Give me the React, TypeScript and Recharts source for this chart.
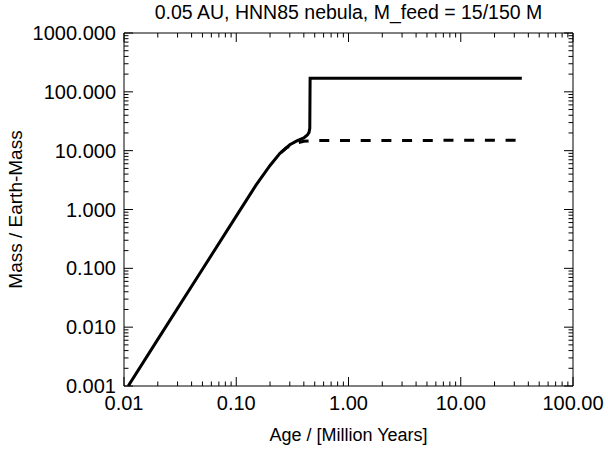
import { LineChart, Line, XAxis, YAxis } from "recharts";

// ages in Myr, masses in Earth masses
const solidAge = [0.0109, 0.02, 0.05, 0.1, 0.15, 0.2, 0.245, 0.3, 0.35, 0.4, 0.43, 0.445, 0.452, 0.455, 35];
const solidMass = [0.001, 0.0062, 0.0965, 0.77, 2.6, 5.6, 9.0, 12.6, 14.8, 16.5, 18.5, 20.5, 24, 170, 170];

const dashAge = [0.25, 0.28, 0.31, 0.35, 0.4, 0.5, 31.5];
const dashMass = [9.3, 11.2, 12.3, 13.6, 14.4, 14.9, 15];

const xDecades = [0.01, 0.1, 1, 10, 100];
const yDecades = [0.001, 0.01, 0.1, 1, 10, 100, 1000];
const minorSteps = [2, 3, 4, 5, 6, 7, 8, 9];

const TITLE = "0.05 AU, HNN85 nebula, M_feed = 15/150 M";
const X_TITLE = "Age / [Million Years]";
const Y_TITLE = "Mass / Earth-Mass";

const W = 608;
const H = 450;
const LEFT = 124;
const RIGHT = 573;
const TOP = 33;
const BOTTOM = 386;
const MAJOR = 9;
const MINOR = 4.5;
const FONT = '"Liberation Sans", Arial, Helvetica, sans-serif';

const solid = solidAge.map((t, i) => ({ t, m: solidMass[i] }));
const dashed = dashAge.map((t, i) => ({ t, m: dashMass[i] }));

const withMinors = (decades: number[]) => {
  const out: number[] = [];
  decades.forEach((d, i) => {
    out.push(d);
    if (i < decades.length - 1) minorSteps.forEach((s) => out.push(+(d * s).toPrecision(6)));
  });
  return out;
};
const xTicks = withMinors(xDecades);
const yTicks = withMinors(yDecades);

function BottomTick({ x, payload }: any) {
  const major = xDecades.includes(payload.value);
  return (
    <g>
      <line x1={x} x2={x} y1={BOTTOM} y2={BOTTOM - (major ? MAJOR : MINOR)} stroke="#000" />
      {major && (
        <text x={x} y={BOTTOM + 24} textAnchor="middle" fontSize={20} fontFamily={FONT} fill="#000">
          {payload.value.toFixed(2)}
        </text>
      )}
    </g>
  );
}

function TopTick({ x, payload }: any) {
  const major = xDecades.includes(payload.value);
  return <line x1={x} x2={x} y1={TOP} y2={TOP + (major ? MAJOR : MINOR)} stroke="#000" />;
}

function LeftTick({ y, payload }: any) {
  const major = yDecades.includes(payload.value);
  return (
    <g>
      <line x1={LEFT} x2={LEFT + (major ? MAJOR : MINOR)} y1={y} y2={y} stroke="#000" />
      {major && (
        <text x={LEFT - 8} y={y + 7} textAnchor="end" fontSize={20} fontFamily={FONT} fill="#000">
          {payload.value.toFixed(3)}
        </text>
      )}
    </g>
  );
}

function RightTick({ y, payload }: any) {
  const major = yDecades.includes(payload.value);
  return <line x1={RIGHT} x2={RIGHT - (major ? MAJOR : MINOR)} y1={y} y2={y} stroke="#000" />;
}

export default function App() {
  return (
    <div style={{ position: "absolute", left: 0, top: 0, width: W, height: H, background: "#fff", fontFamily: FONT }}>
      <div
        style={{
          position: "absolute",
          left: LEFT - 40,
          width: RIGHT - LEFT + 80,
          top: 0,
          textAlign: "center",
          fontSize: 19.5,
          lineHeight: "24px",
          color: "#000",
        }}
      >
        {TITLE}
      </div>
      <LineChart width={W} height={H} margin={{ top: 0, right: 0, bottom: 0, left: 0 }}>
        <XAxis
          xAxisId="b"
          dataKey="t"
          type="number"
          scale="log"
          domain={[0.01, 100]}
          allowDataOverflow
          ticks={xTicks}
          interval={0}
          tick={<BottomTick />}
          tickLine={false}
          tickSize={0}
          height={H - BOTTOM}
          axisLine={{ stroke: "#000" }}
          label={{ value: X_TITLE, position: "insideBottom", offset: 9, fontSize: 18, fill: "#000", fontFamily: FONT }}
        />
        <XAxis
          xAxisId="top"
          orientation="top"
          dataKey="t"
          type="number"
          scale="log"
          domain={[0.01, 100]}
          allowDataOverflow
          ticks={xTicks}
          interval={0}
          tick={<TopTick />}
          tickLine={false}
          tickSize={0}
          height={TOP}
          axisLine={{ stroke: "#000" }}
        />
        <YAxis
          yAxisId="l"
          dataKey="m"
          type="number"
          scale="log"
          domain={[0.001, 1000]}
          allowDataOverflow
          ticks={yTicks}
          interval={0}
          tick={<LeftTick />}
          tickLine={false}
          tickSize={0}
          width={LEFT}
          axisLine={{ stroke: "#000" }}
          label={{
            value: Y_TITLE,
            angle: -90,
            position: "insideLeft",
            offset: 15,
            fontSize: 19,
            fill: "#000",
            fontFamily: FONT,
            style: { textAnchor: "middle" },
          }}
        />
        <YAxis
          yAxisId="r"
          orientation="right"
          dataKey="m"
          type="number"
          scale="log"
          domain={[0.001, 1000]}
          allowDataOverflow
          ticks={yTicks}
          interval={0}
          tick={<RightTick />}
          tickLine={false}
          tickSize={0}
          width={W - RIGHT}
          axisLine={{ stroke: "#000" }}
        />
        <Line
          xAxisId="b"
          yAxisId="l"
          data={solid}
          dataKey="m"
          type="linear"
          stroke="#000"
          strokeWidth={3}
          dot={false}
          isAnimationActive={false}
        />
        <Line
          xAxisId="b"
          yAxisId="l"
          data={dashed}
          dataKey="m"
          type="linear"
          stroke="#000"
          strokeWidth={3}
          strokeDasharray="10 10.7"
          dot={false}
          isAnimationActive={false}
        />
      </LineChart>
    </div>
  );
}
